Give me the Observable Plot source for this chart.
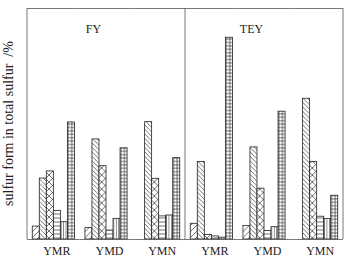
<!DOCTYPE html>
<html>
<head>
<meta charset="utf-8">
<script src="https://cdn.jsdelivr.net/npm/d3@7"></script>
<script src="https://cdn.jsdelivr.net/npm/@observablehq/plot@0.6"></script>
<style>
  html, body { margin: 0; padding: 0; background: #fff; }
  #defs { position: absolute; width: 0; height: 0; }
</style>
</head>
<body>
<svg id="defs" width="0" height="0" aria-hidden="true">
  <defs>
    <pattern id="pat-c1" patternUnits="userSpaceOnUse" width="6" height="6">
      <rect width="6" height="6" fill="#fff"/>
      <path d="M0,6 L6,0 M-1,1 L1,-1 M5,7 L7,5" stroke="#333" stroke-width="0.7"/>
    </pattern>
    <pattern id="pat-c2" patternUnits="userSpaceOnUse" width="4.5" height="4.5">
      <rect width="4.5" height="4.5" fill="#fff"/>
      <path d="M0,0 L4.5,4.5 M-1,3.5 L1,5.5 M3.5,-1 L5.5,1" stroke="#333" stroke-width="0.7"/>
    </pattern>
    <pattern id="pat-c3" patternUnits="userSpaceOnUse" width="7" height="7">
      <rect width="7" height="7" fill="#fff"/>
      <path d="M0,0 L7,7 M0,7 L7,0" stroke="#333" stroke-width="0.7"/>
    </pattern>
    <pattern id="pat-c4" patternUnits="userSpaceOnUse" width="4" height="4">
      <rect width="4" height="4" fill="#fff"/>
      <path d="M0,2 L4,2" stroke="#333" stroke-width="0.7"/>
    </pattern>
    <pattern id="pat-c5" patternUnits="userSpaceOnUse" width="2.4" height="4">
      <rect width="2.4" height="4" fill="#fff"/>
      <path d="M1.2,0 L1.2,4" stroke="#333" stroke-width="0.6"/>
    </pattern>
    <pattern id="pat-c6" patternUnits="userSpaceOnUse" width="3.5" height="3.4">
      <rect width="3.5" height="3.4" fill="#fff"/>
      <path d="M0,1.7 L3.5,1.7 M1.75,0 L1.75,3.4" stroke="#333" stroke-width="0.7"/>
    </pattern>
  </defs>
</svg>
<div id="chart"></div>
<script>
// Panels, groups and the six sulfur forms (bar order within each group)
const panels = ["FY", "TEY"];
const groups = ["YMR", "YMD", "YMN"];
const forms = ["c1", "c2", "c3", "c4", "c5", "c6"];

// Values (% of total sulfur), one array per panel/group
const FY_YMR = [4.2, 19.8, 22.1, 9.3, 5.6, 38.0];
const FY_YMD = [3.7, 32.5, 23.8, 2.9, 6.7, 29.6];
const FY_YMN = [0, 38.1, 19.7, 7.5, 7.8, 26.4];
const TEY_YMR = [5.1, 25.2, 1.5, 1.0, 0.6, 65.5];
const TEY_YMD = [4.4, 29.9, 16.5, 2.8, 4.0, 41.5];
const TEY_YMN = [0, 45.7, 25.2, 7.4, 6.7, 14.2];

const yLabel = "sulfur form in total sulfur  /%";

const series = {
  "FY-YMR": FY_YMR, "FY-YMD": FY_YMD, "FY-YMN": FY_YMN,
  "TEY-YMR": TEY_YMR, "TEY-YMD": TEY_YMD, "TEY-YMN": TEY_YMN
};
const facetKeys = panels.flatMap(p => groups.map(g => `${p}-${g}`));
const data = facetKeys.flatMap(k => series[k].map((v, i) => ({key: k, form: forms[i], value: v})));
const panelLabels = panels.map(p => ({key: `${p}-${groups[0]}`, label: p}));

const W = 351, H = 260;
const font = "'Liberation Serif', 'Times New Roman', serif";

const chart = Plot.plot({
  width: W,
  height: H,
  marginLeft: 27,
  marginRight: 8,
  marginTop: 8,
  marginBottom: 21,
  style: {fontFamily: font, fontSize: "12px", color: "#222", background: "#fff"},
  fx: {domain: facetKeys, padding: 0, round: false, label: null, tickSize: 0, tickPadding: 7,
       tickFormat: d => d.split("-")[1]},
  x: {domain: forms, paddingInner: 0, paddingOuter: 0.75, round: false, axis: null},
  y: {domain: [0, 75], axis: null},
  marks: [
    Plot.barY(data, {fx: "key", x: "form", y: "value",
      fill: d => `url(#pat-${d.form})`, stroke: "#222", strokeWidth: 0.8}),
    Plot.ruleY([0], {stroke: "#555", strokeWidth: 0.8}),
    Plot.ruleY([75], {stroke: "#555", strokeWidth: 0.8}),
    Plot.text(panelLabels, {fx: "key", text: "label", frameAnchor: "top-left", dx: 66, dy: 16,
      textAnchor: "middle", fontSize: 12})
  ]
});

document.getElementById("chart").appendChild(chart);

// Fix fx tick labels slight offset, and draw vertical frame edges + panel divider
const svg = d3.select(chart);
svg.selectAll("[aria-label='fx-axis tick label'] text").attr("dx", 3);
const fx = chart.scale("fx");
const x0 = 27, x1 = W - 8, yTop = 8, yBot = H - 21;
const xDiv = fx.apply(`${panels[1]}-${groups[0]}`);
[x0, xDiv, x1].forEach(xx => {
  svg.append("line").attr("x1", xx).attr("x2", xx).attr("y1", yTop).attr("y2", yBot)
    .attr("stroke", "#555").attr("stroke-width", 0.8);
});
svg.append("text")
  .attr("transform", `translate(10,${(yTop + yBot) / 2}) rotate(-90)`)
  .attr("text-anchor", "middle")
  .attr("dominant-baseline", "middle")
  .attr("font-family", font)
  .attr("font-size", 14)
  .attr("fill", "#222")
  .style("white-space", "pre")
  .text(yLabel);
</script>
</body>
</html>
